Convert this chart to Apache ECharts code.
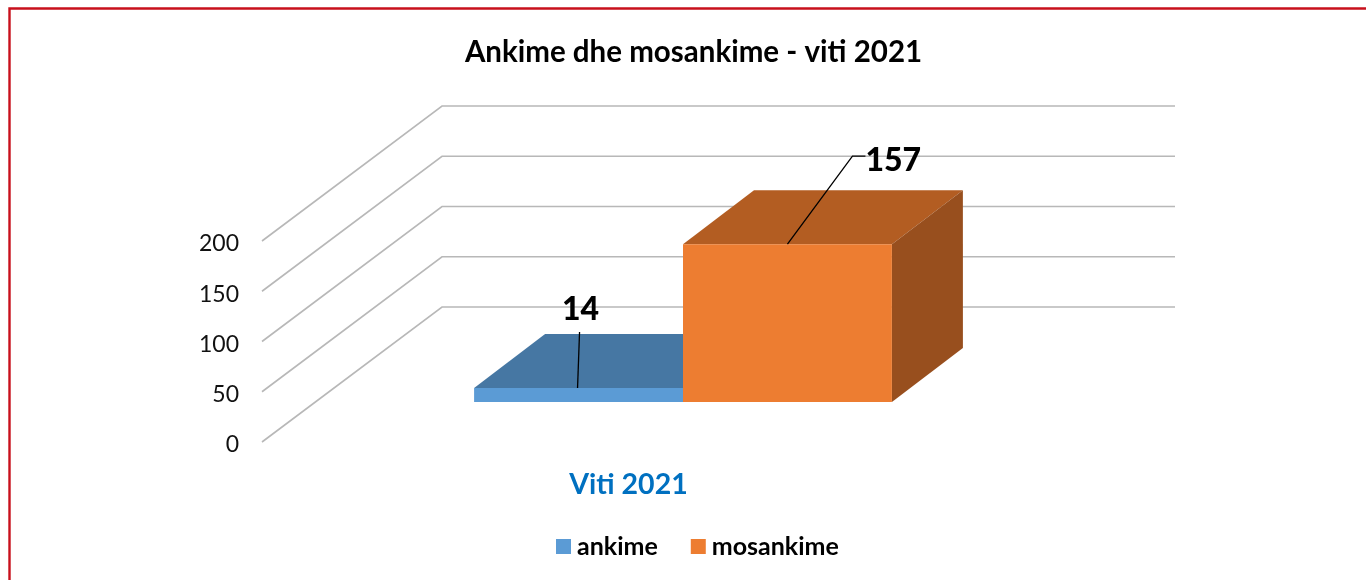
<!DOCTYPE html>
<html><head><meta charset="utf-8">
<style>html,body{margin:0;padding:0;background:#fff}#c{width:1366px;height:580px}</style>
<script src="https://cdn.jsdelivr.net/npm/echarts@6/dist/echarts.min.js"></script>
</head><body><div id="c"></div>
<script>
const titleText = 'Ankime dhe mosankime - viti 2021';
const categories = ['Viti 2021'];
const seriesNames = ['ankime', 'mosankime'];
const ankime = [14];
const mosankime = [157];
const yTicks = [0, 50, 100, 150, 200];

const FONT = 'Lato, "Open Sans", sans-serif';
// oblique projection constants (pixels)
const WALL_DX = 180, WALL_DY = -135, WALL_RIGHT = 1175;
const BAR_SHIFT_X = 54.5, BAR_SHIFT_Y = -40, BAR_DX = 71, BAR_DY = -54, BAR_FRAC = 0.285;
const styles = [
  {front:'#5B9BD5', top:'#4677A3', side:'#3C6A94'},
  {front:'#ED7D31', top:'#B35D22', side:'#984F1E'}
];

function gridItem(params, api){
  const p = api.coord([0, api.value(0)]);
  const x0 = params.coordSys.x;
  const y = p[1];
  return {type:'polyline', silent:true,
    shape:{points:[[x0, y],[x0+WALL_DX, y+WALL_DY],[WALL_RIGHT, y+WALL_DY]]},
    style:{stroke:'#B8B8B8', lineWidth:1.6, fill:null}};
}
function barItem(idx){
  return function(params, api){
    const v = api.value(1);
    const c0 = api.coord([api.value(0), 0]);
    const c1 = api.coord([api.value(0), v]);
    const w = api.size([1,0])[0]*BAR_FRAC;
    const xL = c0[0]+BAR_SHIFT_X + (idx-1)*w, xR = xL+w;
    const yB = c0[1]+BAR_SHIFT_Y, yT = c1[1]+BAR_SHIFT_Y;
    const s = styles[idx];
    const kids = [
      {type:'polygon',shape:{points:[[xL,yT],[xR,yT],[xR+BAR_DX,yT+BAR_DY],[xL+BAR_DX,yT+BAR_DY]]},style:{fill:s.top}},
      {type:'polygon',shape:{points:[[xR,yT],[xR+BAR_DX,yT+BAR_DY],[xR+BAR_DX,yB+BAR_DY],[xR,yB]]},style:{fill:s.side}},
      {type:'rect',shape:{x:xL,y:yT,width:w,height:yB-yT},style:{fill:s.front}}
    ];
    return {type:'group',children:kids};
  };
}
function labelItem(idx){
  return function(params, api){
    const v = api.value(1);
    const c0 = api.coord([api.value(0), 0]);
    const c1 = api.coord([api.value(0), v]);
    const w = api.size([1,0])[0]*BAR_FRAC;
    const xL = c0[0]+BAR_SHIFT_X + (idx-1)*w;
    const mid = xL+w/2, yT = c1[1]+BAR_SHIFT_Y;
    const pts = idx===0 ? [[mid-1,yT],[mid+1,yT-56]] : [[mid,yT],[mid+65,yT-88],[mid+78,yT-88]];
    const tx = idx===0 ? {x:mid+2,y:yT-78,align:'center'} : {x:mid+78,y:yT-84,align:'left'};
    return {type:'group',children:[
      {type:'polyline',shape:{points:pts},style:{stroke:'#000',lineWidth:1.3,fill:null}},
      {type:'text',style:{text:String(v),x:tx.x,y:tx.y,align:tx.align,verticalAlign:'middle',
        font:'900 32px '+FONT,fill:'#000'}}
    ]};
  };
}
const chart = echarts.init(document.getElementById('c'),null,{renderer:'canvas'});
chart.setOption({
  animation:false,
  backgroundColor:'#fff',
  title:{text:titleText,left:688.5,top:32,textAlign:'center',
    textStyle:{fontFamily:FONT,fontWeight:'bold',fontSize:29.5,color:'#000'}},
  legend:{data:seriesNames,left:551,top:529,itemWidth:15,itemHeight:15,itemGap:33,icon:'rect',
    textStyle:{fontFamily:FONT,fontWeight:'bold',fontSize:25,color:'#000',padding:[0,0,0,1]}},
  grid:{left:262,top:241,width:733,height:201},
  xAxis:{type:'category',data:categories,axisLine:{show:false},axisTick:{show:false},
    axisLabel:{margin:28,fontFamily:FONT,fontWeight:'bold',fontSize:28.5,color:'#0070C0'}},
  yAxis:{type:'value',min:yTicks[0],max:yTicks[yTicks.length-1],interval:yTicks[1]-yTicks[0],
    axisLine:{show:false},axisTick:{show:false},splitLine:{show:false},
    axisLabel:{margin:23,formatter:'{a|{value}}',
      rich:{a:{fontFamily:FONT,fontSize:23,color:'#111',padding:[6,0,0,0]}}}},
  series:[
    {type:'custom',name:'grid',silent:true,clip:false,z:1,renderItem:gridItem,
      encode:{y:0},data:yTicks.map(v=>[v]),coordinateSystem:'cartesian2d'},
    {type:'custom',name:seriesNames[0],clip:false,z:2,renderItem:barItem(0),
      itemStyle:{color:styles[0].front},encode:{x:0,y:1},data:ankime.map((v,i)=>[i,v])},
    {type:'custom',name:seriesNames[1],clip:false,z:3,renderItem:barItem(1),
      itemStyle:{color:styles[1].front},encode:{x:0,y:1},data:mosankime.map((v,i)=>[i,v])},
    {type:'custom',name:'l0',silent:true,clip:false,z:4,renderItem:labelItem(0),
      encode:{x:0,y:1},data:ankime.map((v,i)=>[i,v])},
    {type:'custom',name:'l1',silent:true,clip:false,z:4,renderItem:labelItem(1),
      encode:{x:0,y:1},data:mosankime.map((v,i)=>[i,v])}
  ],
  graphic:[{type:'polyline',silent:true,z:10,
    shape:{points:[[9.5,580],[9.5,8.5],[1366,8.5]]},
    style:{stroke:'#C8101C',lineWidth:2.4,fill:null}}]
});
</script></body></html>
